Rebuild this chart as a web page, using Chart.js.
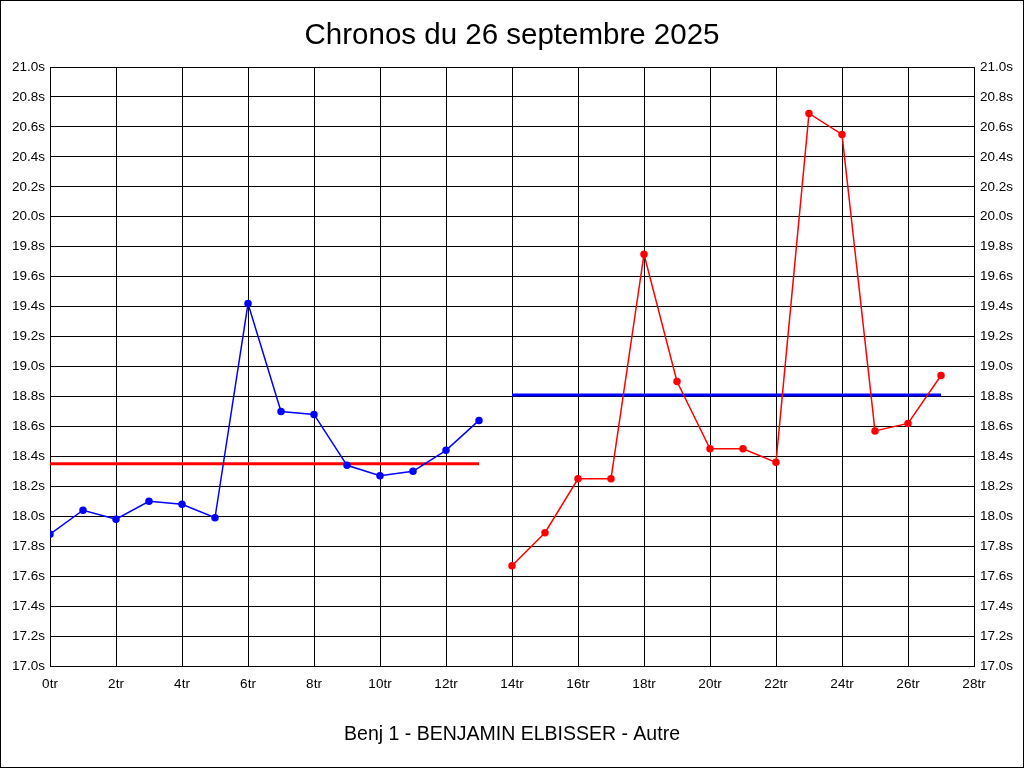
<!DOCTYPE html>
<html>
<head>
<meta charset="utf-8">
<script src="https://cdn.jsdelivr.net/npm/chart.js@4/dist/chart.umd.min.js"></script>
<style>
  body { margin: 0; background: #fff; }
  canvas { display: block; }
</style>
</head>
<body>
<canvas id="chrono" width="1024" height="768"></canvas>
<script>
// Chart data (lap number -> time in seconds)
const lapsBlue = [0, 1, 2, 3, 4, 5, 6, 7, 8, 9, 10, 11, 12, 13];
const timesBlue = [17.88, 18.04, 17.98, 18.10, 18.08, 17.99, 19.42, 18.70, 18.68, 18.34, 18.27, 18.30, 18.44, 18.64];
const lapsRed = [14, 15, 16, 17, 18, 19, 20, 21, 22, 23, 24, 25, 26, 27];
const timesRed = [17.67, 17.89, 18.25, 18.25, 19.75, 18.90, 18.45, 18.45, 18.36, 20.69, 20.55, 18.57, 18.62, 18.94];

// Mean lines
const meanBlueLaps = [0, 13];
const meanBlueValue = 18.35;
const meanRedLaps = [14, 27];
const meanRedValue = 18.81;

const FONT = "'Liberation Sans', Arial, sans-serif";

const toPoints = (xs, ys) => xs.map((x, i) => ({ x: x, y: ys[i] }));
const flatLine = (xs, v) => xs.map(x => ({ x: x, y: v }));

// White background + outer frame
const framePlugin = {
  id: 'frame',
  beforeDraw(chart) {
    const ctx = chart.ctx;
    ctx.save();
    ctx.fillStyle = '#fff';
    ctx.fillRect(0, 0, chart.width, chart.height);
    ctx.restore();
  },
  afterDraw(chart) {
    const ctx = chart.ctx;
    ctx.save();
    ctx.strokeStyle = '#000';
    ctx.lineWidth = 1;
    ctx.strokeRect(0.5, 0.5, chart.width - 1, chart.height - 1);
    ctx.restore();
  }
};

new Chart(document.getElementById('chrono'), {
  type: 'line',
  data: {
    datasets: [
      {
        label: 'Série 1',
        data: toPoints(lapsBlue, timesBlue),
        borderColor: '#0000ff',
        backgroundColor: '#0000ff',
        borderWidth: 1.5,
        pointRadius: 3,
        pointHoverRadius: 3,
        tension: 0
      },
      {
        label: 'Moyenne 1',
        data: flatLine(meanBlueLaps, meanBlueValue),
        borderColor: '#ff0000',
        borderWidth: 3,
        pointRadius: 0
      },
      {
        label: 'Série 2',
        data: toPoints(lapsRed, timesRed),
        borderColor: '#ff0000',
        backgroundColor: '#ff0000',
        borderWidth: 1.5,
        pointRadius: 3,
        pointHoverRadius: 3,
        tension: 0
      },
      {
        label: 'Moyenne 2',
        data: flatLine(meanRedLaps, meanRedValue),
        borderColor: '#0000ff',
        borderWidth: 3,
        pointRadius: 0
      }
    ]
  },
  options: {
    responsive: false,
    animation: false,
    events: [],
    layout: { padding: 0 },
    plugins: {
      legend: { display: false },
      tooltip: { enabled: false },
      title: {
        display: true,
        text: 'Chronos du 26 septembre 2025',
        color: '#000',
        font: { family: FONT, size: 29.5, weight: 'normal', lineHeight: 1.2 },
        padding: { top: 18.3, bottom: 13.3 }
      },
      subtitle: {
        display: true,
        position: 'bottom',
        text: 'Benj 1 - BENJAMIN ELBISSER - Autre',
        color: '#000',
        font: { family: FONT, size: 19.5, weight: 'normal', lineHeight: 1.2 },
        padding: { top: 27.3, bottom: 21.3 }
      }
    },
    scales: {
      x: {
        type: 'linear',
        min: 0,
        max: 28,
        border: { color: '#000', width: 1 },
        grid: { color: '#000', lineWidth: 1, drawTicks: false },
        ticks: {
          stepSize: 2,
          padding: 10,
          color: '#000',
          font: { family: FONT, size: 13.5 },
          callback: v => v + 'tr'
        },
        afterFit(scale) { scale.height = 30; }
      },
      y: {
        type: 'linear',
        position: 'left',
        min: 17,
        max: 21,
        border: { color: '#000', width: 1 },
        grid: { color: '#000', lineWidth: 1, drawTicks: false },
        ticks: {
          stepSize: 0.2,
          padding: 5,
          color: '#000',
          font: { family: FONT, size: 13.5 },
          callback: v => v.toFixed(1) + 's'
        },
        afterFit(scale) { scale.width = 50; }
      },
      y2: {
        type: 'linear',
        position: 'right',
        min: 17,
        max: 21,
        border: { color: '#000', width: 1 },
        grid: { display: false, drawTicks: false },
        ticks: {
          stepSize: 0.2,
          padding: 6,
          color: '#000',
          font: { family: FONT, size: 13.5 },
          callback: v => v.toFixed(1) + 's'
        },
        afterFit(scale) { scale.width = 50; }
      }
    }
  },
  plugins: [framePlugin]
});
</script>
</body>
</html>
